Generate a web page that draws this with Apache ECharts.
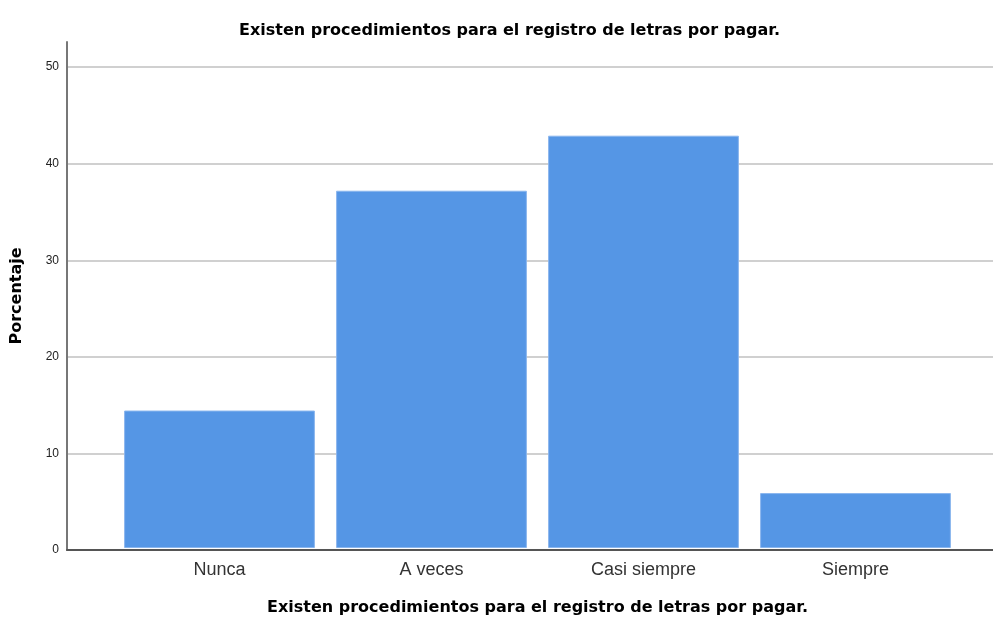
<!DOCTYPE html>
<html><head><meta charset="utf-8">
<script src="https://cdn.jsdelivr.net/npm/echarts@6/dist/echarts.min.js"></script>
<style>html,body{margin:0;padding:0;background:#fff}#c{width:993px;height:621px}</style>
</head><body><div id="c"></div>
<script>
const categories = ['Nunca', 'A veces', 'Casi siempre', 'Siempre'];
const percentages = [14.29, 37.14, 42.86, 5.71];
const yTicks = [0, 10, 20, 30, 40, 50];
const titleText = 'Existen procedimientos para el registro de letras por pagar.';
const yName = 'Porcentaje';

const YMAX = 52.6;
const BOLD = 'DejaVu Sans';
const chart = echarts.init(document.getElementById('c'), null, {renderer: 'canvas'});
chart.setOption({
  animation: false,
  backgroundColor: '#fff',
  title: {
    text: titleText, left: 504.5, textAlign: 'center', top: 18,
    textStyle: {fontFamily: BOLD, fontSize: 16, fontWeight: 'bold', color: '#000'}
  },
  grid: [
    {left: 67, right: 0, top: 42, bottom: 71, containLabel: false},
    {left: 113.5, right: 31.5, top: 42, bottom: 71, containLabel: false}
  ],
  xAxis: [
    {gridIndex: 0, type: 'value', min: 0, max: 1, show: true,
     axisLine: {show: true, onZero: false, lineStyle: {color: '#555', width: 2}},
     axisTick: {show: false}, axisLabel: {show: false}, splitLine: {show: false}},
    {gridIndex: 1, type: 'category', data: categories,
     axisLine: {show: false}, axisTick: {show: false},
     axisLabel: {fontFamily: 'Liberation Sans, Arial', fontSize: 18, color: '#333', margin: 13},
     name: titleText, nameLocation: 'middle', nameGap: 52,
     nameTextStyle: {fontFamily: BOLD, fontSize: 16, fontWeight: 'bold', color: '#000'}}
  ],
  yAxis: [
    {gridIndex: 0, type: 'value', min: 0, max: YMAX, interval: 10,
     axisLine: {show: true, lineStyle: {color: '#777', width: 2}},
     axisTick: {show: false},
     axisLabel: {fontFamily: 'Liberation Sans, Arial', fontSize: 12, color: '#222', margin: 8,
       showMaxLabel: false,
       formatter: v => yTicks.includes(v) ? String(v) : ''},
     splitLine: {show: true, showMaxLine: false, lineStyle: {color: '#d0d0d0', width: 2}},
     name: yName, nameLocation: 'middle', nameGap: 42, nameRotate: 90,
     nameTextStyle: {fontFamily: BOLD, fontSize: 16, fontWeight: 'bold', color: '#000'}},
    {gridIndex: 1, type: 'value', min: 0, max: YMAX, show: false, splitLine: {show: false}}
  ],
  series: [{
    type: 'bar', xAxisIndex: 1, yAxisIndex: 1, data: percentages,
    barWidth: '90%',
    itemStyle: {color: '#5596e5', borderColor: '#8ab6ee', borderWidth: 1},
    z: 3
  }]
});
</script>
</body></html>
